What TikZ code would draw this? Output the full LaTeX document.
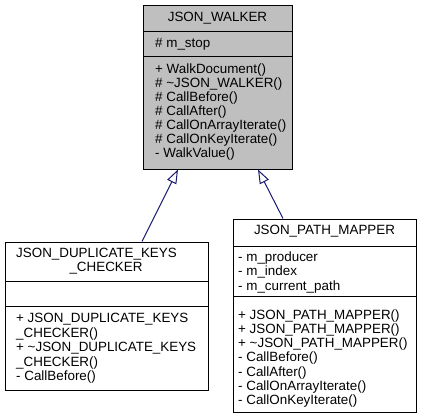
\documentclass[tikz,border=0pt]{standalone}
\usepackage{fontspec}
\setmainfont{Liberation Sans}
\usetikzlibrary{arrows.meta}
\definecolor{boxgray}{HTML}{BFBFBF}
\definecolor{inhblue}{HTML}{191970}
\begin{document}
\begin{tikzpicture}[x=1pt,y=-1pt,
  umlbox/.style={draw=black, line width=1pt, inner sep=0pt, anchor=north west},
  sepline/.style={draw=black, line width=1pt},
  txt/.style={inner sep=0pt, anchor=base west, font=\fontsize{13.4}{14}\selectfont},
  ttl/.style={inner sep=0pt, anchor=base, font=\fontsize{13.4}{14}\selectfont},
  inh/.style={draw=inhblue, line width=1pt, -{Triangle[open, length=14pt, width=10pt, fill=white]}}]
\useasboundingbox (0,0) rectangle (432,419);

% JSON_WALKER
\node[umlbox, fill=boxgray, minimum width=149pt, minimum height=164pt] (walker) at (143,5) {};
\draw[sepline] (143,32) -- (292,32);
\draw[sepline] (143,57) -- (292,57);
\node[ttl] (wt) at (217.5,22) {JSON\_WALKER};
\node[txt] (wa1) at (155,48) {\# m\_stop};
\node[txt] (wm1) at (155,74) {+ WalkDocument()};
\node[txt] (wm2) at (155,88) {\# \textasciitilde JSON\_WALKER()};
\node[txt] (wm3) at (155,102) {\# CallBefore()};
\node[txt] (wm4) at (155,116) {\# CallAfter()};
\node[txt] (wm5) at (155,130) {\# CallOnArrayIterate()};
\node[txt] (wm6) at (155,144) {\# CallOnKeyIterate()};
\node[txt] (wm7) at (155,158) {- WalkValue()};

% JSON_DUPLICATE_KEYS_CHECKER
\node[umlbox, fill=white, minimum width=203pt, minimum height=148pt] (dup) at (5,242) {};
\draw[sepline] (5,282) -- (208,282);
\draw[sepline] (5,307) -- (208,307);
\node[txt] (dt1) at (16,258) {JSON\_DUPLICATE\_KEYS};
\node[ttl] (dt2) at (106,272) {\_CHECKER};
\node[txt] (dm1) at (16,323) {+ JSON\_DUPLICATE\_KEYS};
\node[txt] (dm2) at (16,337.5) {\_CHECKER()};
\node[txt] (dm3) at (16,352) {+ \textasciitilde JSON\_DUPLICATE\_KEYS};
\node[txt] (dm4) at (16,366.5) {\_CHECKER()};
\node[txt] (dm5) at (16,381) {- CallBefore()};

% JSON_PATH_MAPPER
\node[umlbox, fill=white, minimum width=183pt, minimum height=193pt] (path) at (233,219) {};
\draw[sepline] (233,247) -- (416,247);
\draw[sepline] (233,297) -- (416,297);
\node[ttl] (pt) at (324.5,235) {JSON\_PATH\_MAPPER};
\node[txt] (pa1) at (238,261.5) {- m\_producer};
\node[txt] (pa2) at (238,276) {- m\_index};
\node[txt] (pa3) at (238,290.5) {- m\_current\_path};
\node[txt] (pm1) at (238,320) {+ JSON\_PATH\_MAPPER()};
\node[txt] (pm2) at (238,334) {+ JSON\_PATH\_MAPPER()};
\node[txt] (pm3) at (238,348) {+ \textasciitilde JSON\_PATH\_MAPPER()};
\node[txt] (pm4) at (238,362) {- CallBefore()};
\node[txt] (pm5) at (238,377) {- CallAfter()};
\node[txt] (pm6) at (238,391) {- CallOnArrayIterate()};
\node[txt] (pm7) at (238,405) {- CallOnKeyIterate()};

% inheritance connectors
\coordinate (wl) at (178,169.5);
\coordinate (wr) at (258,169.5);
\coordinate (dtop) at (142,241.5);
\coordinate (ptop) at (283,218.5);
\draw[inh] (dtop) -- (wl);
\draw[inh] (ptop) -- (wr);
\end{tikzpicture}
\end{document}
